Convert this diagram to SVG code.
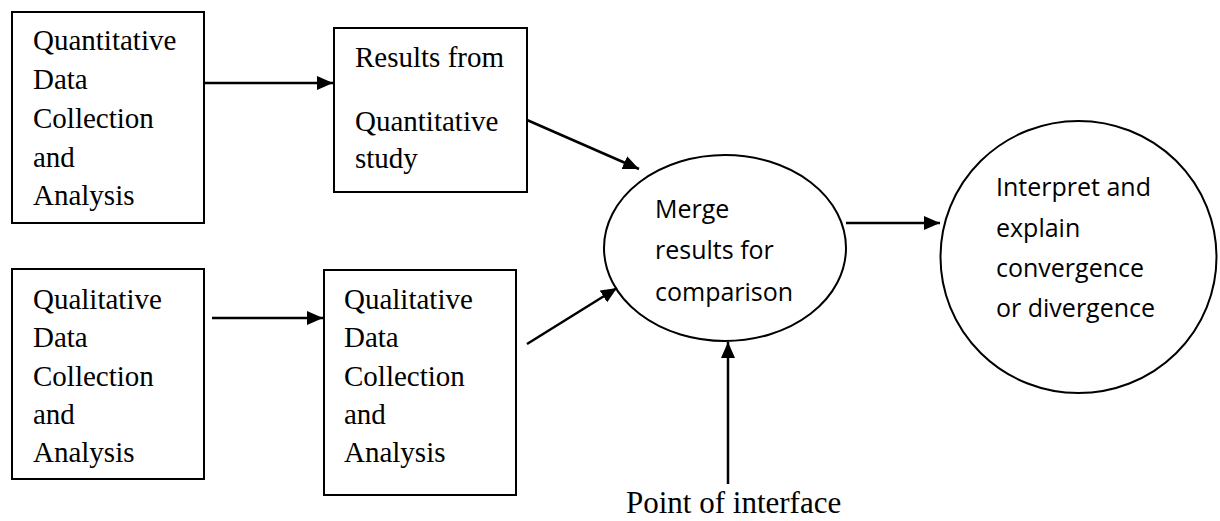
<svg xmlns="http://www.w3.org/2000/svg" width="1220" height="521" viewBox="0 0 1220 521">
  <style>
    .box { fill: #ffffff; stroke: #000000; stroke-width: 2; }
    .oval { fill: #ffffff; stroke: #000000; stroke-width: 2; }
    .serif { font-family: "Liberation Serif", "Times New Roman", serif; font-size: 29px; fill: #000000; }
    .sans { font-family: "Open Sans", "Noto Sans", sans-serif; font-size: 25px; fill: #000000; }
    .conn { stroke: #000000; stroke-width: 2.5; fill: none; marker-end: url(#arrow); }
  </style>
  <defs>
    <marker id="arrow" markerUnits="userSpaceOnUse" markerWidth="16" markerHeight="14" refX="16" refY="7" orient="auto">
      <path d="M0,0 L16,7 L0,14 Z" fill="#000000"/>
    </marker>
  </defs>
  <rect width="1220" height="521" fill="#ffffff"/>

  <g id="quant-collection">
    <rect class="box" x="12" y="12" width="192" height="211"/>
    <text class="serif" x="33" y="50">Quantitative</text>
    <text class="serif" x="33" y="89">Data</text>
    <text class="serif" x="33" y="128">Collection</text>
    <text class="serif" x="33" y="167">and</text>
    <text class="serif" x="33" y="205">Analysis</text>
  </g>

  <g id="quant-results">
    <rect class="box" x="334" y="28" width="193" height="164"/>
    <text class="serif" x="355" y="67">Results from</text>
    <text class="serif" x="355" y="131">Quantitative</text>
    <text class="serif" x="355" y="168">study</text>
  </g>

  <g id="qual-collection">
    <rect class="box" x="12" y="269" width="192" height="210"/>
    <text class="serif" x="33" y="309">Qualitative</text>
    <text class="serif" x="33" y="347">Data</text>
    <text class="serif" x="33" y="386">Collection</text>
    <text class="serif" x="33" y="424">and</text>
    <text class="serif" x="33" y="462">Analysis</text>
  </g>

  <g id="qual-analysis">
    <rect class="box" x="324" y="270" width="192" height="225"/>
    <text class="serif" x="344" y="309">Qualitative</text>
    <text class="serif" x="344" y="347">Data</text>
    <text class="serif" x="344" y="386">Collection</text>
    <text class="serif" x="344" y="424">and</text>
    <text class="serif" x="344" y="462">Analysis</text>
  </g>

  <g id="merge">
    <ellipse class="oval" cx="725" cy="248" rx="121" ry="93"/>
    <text class="sans" x="655" y="218">Merge</text>
    <text class="sans" x="655" y="259">results for</text>
    <text class="sans" x="655" y="301">comparison</text>
  </g>

  <g id="interpret">
    <ellipse class="oval" cx="1078.5" cy="257" rx="138" ry="136"/>
    <text class="sans" x="996" y="196">Interpret and</text>
    <text class="sans" x="996" y="237">explain</text>
    <text class="sans" x="996" y="277">convergence</text>
    <text class="sans" x="996" y="317">or divergence</text>
  </g>

  <g id="interface-label">
    <text class="serif" x="626" y="513" style="font-size:31px">Point of interface</text>
  </g>

  <g id="connectors">
    <line class="conn" x1="204" y1="83" x2="333" y2="83"/>
    <line class="conn" x1="212" y1="318" x2="323" y2="318"/>
    <line class="conn" x1="527" y1="120" x2="639" y2="169"/>
    <line class="conn" x1="527" y1="344" x2="617" y2="288"/>
    <line class="conn" x1="846" y1="223" x2="940" y2="223"/>
    <line class="conn" x1="728" y1="484" x2="728" y2="342"/>
  </g>
</svg>
